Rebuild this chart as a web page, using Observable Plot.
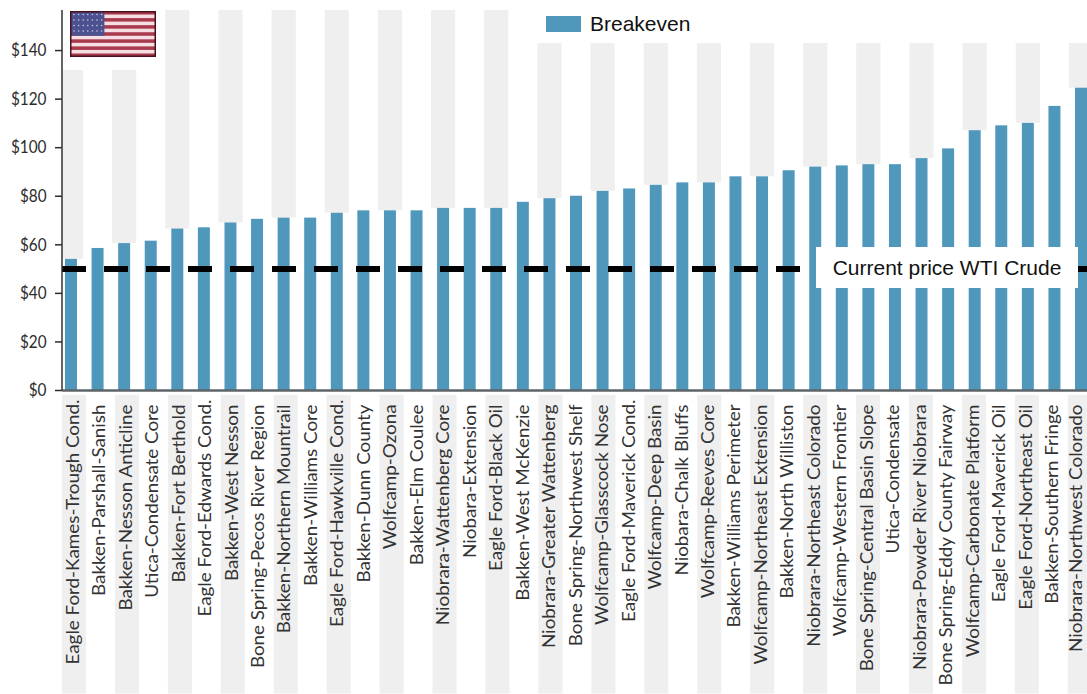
<!DOCTYPE html>
<html>
<head>
<meta charset="utf-8">
<script src="https://cdn.jsdelivr.net/npm/d3@7"></script>
<script src="https://cdn.jsdelivr.net/npm/@observablehq/plot@0.6"></script>
<style>
  html, body { margin: 0; padding: 0; background: #fff; overflow: hidden; }
  #wrap { position: relative; width: 1087px; height: 694px; overflow: hidden; }
  #wrap svg { display: block; }
  .box { position: absolute; background: #fff; }
  .sans { font-family: "Liberation Sans", Arial, sans-serif; color: #111; white-space: nowrap; }
</style>
</head>
<body>
<div id="wrap"></div>
<script>
// US shale plays ranked by breakeven oil price, in dollars per barrel
const plays = [
  "Eagle Ford-Kames-Trough Cond.", "Bakken-Parshall-Sanish", "Bakken-Nesson Anticline",
  "Utica-Condensate Core", "Bakken-Fort Berthold", "Eagle Ford-Edwards Cond.",
  "Bakken-West Nesson", "Bone Spring-Pecos River Region", "Bakken-Northern Mountrail",
  "Bakken-Williams Core", "Eagle Ford-Hawkville Cond.", "Bakken-Dunn County",
  "Wolfcamp-Ozona", "Bakken-Elm Coulee", "Niobrara-Wattenberg Core",
  "Niobara-Extension", "Eagle Ford-Black Oil", "Bakken-West McKenzie",
  "Niobrara-Greater Wattenberg", "Bone Spring-Northwest Shelf", "Wolfcamp-Glasscock Nose",
  "Eagle Ford-Maverick Cond.", "Wolfcamp-Deep Basin", "Niobara-Chalk Bluffs",
  "Wolfcamp-Reeves Core", "Bakken-Williams Perimeter", "Wolfcamp-Northeast Extension",
  "Bakken-North Williston", "Niobrara-Northeast Colorado", "Wolfcamp-Western Frontier",
  "Bone Spring-Central Basin Slope", "Utica-Condensate", "Niobrara-Powder River Niobrara",
  "Bone Spring-Eddy County Fairway", "Wolfcamp-Carbonate Platform", "Eagle Ford-Maverick Oil",
  "Eagle Ford-Northeast Oil", "Bakken-Southern Fringe", "Niobrara-Northwest Colorado"
];
const breakeven = [
  54, 58.5, 60.5, 61.5, 66.5, 67, 69, 70.5, 71, 71, 73, 74, 74,
  74, 75, 75, 75, 77.5, 79, 80, 82, 83, 84.5, 85.5, 85.5, 88,
  88, 90.5, 92, 92.5, 93, 93, 95.5, 99.5, 107, 109, 110, 117, 124.5
];
const yTicks = [0, 20, 40, 60, 80, 100, 120, 140];
const currentPrice = 50;
const yTop = 156.5;

const rows = plays.map((play, i) => ({play, value: breakeven[i], i}));
const banded = rows.filter(d => d.i % 2 === 0);

const chart = Plot.plot({
  width: 1087,
  height: 694,
  marginLeft: 62,
  marginRight: 0,
  marginTop: 10,
  marginBottom: 304,
  style: {background: "#fff", overflow: "visible"},
  x: {domain: plays, range: [57.7, 1094.3], padding: 0, round: false, label: null},
  y: {domain: [0, yTop], label: null},
  marks: [
    // Alternate bands: above each bar, and again behind its label
    Plot.barY(banded, {x: "play", y1: "value", y2: yTop, fill: "#efefef", insetLeft: 1.2, insetRight: 1.2, clip: "frame"}),
    Plot.barY(banded, {x: "play", y1: -2, y2: -125, fill: "#efefef", insetLeft: 1.2, insetRight: 1.2, className: "label-band"}),
    Plot.barY(rows, {x: "play", y: "value", fill: "#4f98bc", insetLeft: 7.3, insetRight: 7.3}),
    Plot.ruleY([0], {stroke: "#5d6468", strokeWidth: 2.5}),
    Plot.ruleY([currentPrice], {stroke: "#000", strokeWidth: 6, strokeDasharray: "24 18"}),
    Plot.axisY({
      ticks: yTicks, tickFormat: d => "$" + d, tickSize: 7, tickPadding: 9,
      fontSize: 18, stroke: "#2b2b2b", fill: "#2b2b2b",
      fontFamily: "Lato", label: null, strokeWidth: 1.5
    }),
    Plot.axisX({
      tickRotate: -90, tickSize: 0, tickPadding: 14, fontSize: 18,
      fill: "#333", fontFamily: "Lato", label: null
    })
  ]
});

const wrap = document.getElementById("wrap");
wrap.appendChild(chart);

// Tick labels are set in a narrower cut on the value axis and a wider one on the category axis
const fitLabels = (selector, ratio) => {
  chart.querySelectorAll(selector + " text").forEach(t => {
    t.setAttribute("textLength", (t.getComputedTextLength() * ratio).toFixed(1));
    t.setAttribute("lengthAdjust", "spacingAndGlyphs");
  });
};
fitLabels('g[aria-label="y-axis tick label"]', 0.85);
fitLabels('g[aria-label="x-axis tick label"]', 1.045);

// Abbreviated names sit a little further up their band
const categoryLabels = [...chart.querySelectorAll('g[aria-label="x-axis tick label"] text')];
categoryLabels.forEach(t => {
  if (t.textContent.endsWith("Cond.")) t.setAttribute("dx", 5);
});

// The final label is pulled in so its descenders stay on the page
const lastLabel = categoryLabels[categoryLabels.length - 1];
lastLabel.setAttribute("transform", `translate(-3,0) ${lastLabel.getAttribute("transform") || ""}`);

// The label strip runs on a slightly tighter pitch than the bars above it
const squeeze = 26.47 / 26.58;
const retune = (el, offset) => {
  const prior = el.getAttribute("transform") || "";
  el.setAttribute("transform", `translate(${offset},0) scale(${squeeze},1) ${prior}`);
};
chart.querySelectorAll("g.label-band").forEach(g => retune(g, 71 * (1 - squeeze) + 3));
chart.querySelectorAll('g[aria-label="x-axis tick label"]').forEach(g => retune(g, 71 * (1 - squeeze) + 1.5));

// The vertical axis line runs the full height of the frame
const yPx = chart.scale("y");
d3.select(chart).append("line")
  .attr("x1", 62).attr("x2", 62)
  .attr("y1", yPx.apply(yTop)).attr("y2", yPx.apply(0))
  .attr("stroke", "#333").attr("stroke-width", 1.5);

function box(css, html) {
  const el = document.createElement("div");
  el.className = "box";
  el.style.cssText = css;
  if (html) el.innerHTML = html;
  wrap.appendChild(el);
  return el;
}

// Legend, on a white strip across the top right
box("left:530px;top:0;width:557px;height:43px;");
box("left:546px;top:16px;width:35px;height:16px;background:#4f98bc;");
const legendText = box("left:590px;top:12px;font-size:21px;line-height:24px;background:none;", "Breakeven");
legendText.classList.add("sans");

// Label for the current price, centred on its line
const priceY = yPx.apply(currentPrice);
const priceLabel = box(`left:816px;top:${priceY - 22}px;width:262px;height:41px;line-height:41px;text-align:center;font-size:21px;`, "Current price WTI Crude");
priceLabel.classList.add("sans");

// Flag in the top left corner of the frame
box("left:63px;top:0;width:96px;height:70px;");
const flagW = 86, flagH = 46;
const flag = d3.select(wrap).append("svg")
  .attr("width", flagW).attr("height", flagH)
  .style("position", "absolute").style("left", "70px").style("top", "11px");
const stripeCount = 13;
d3.range(stripeCount).forEach(s => {
  flag.append("rect")
    .attr("x", 0).attr("width", flagW)
    .attr("y", s * flagH / stripeCount).attr("height", flagH / stripeCount + 0.5)
    .attr("fill", s % 2 ? "#f6dfe2" : "#a83a4e");
});
flag.append("rect").attr("width", flagW * 0.4).attr("height", flagH * 7 / 13).attr("fill", "#4c5190");
d3.range(4).forEach(r => d3.range(7).forEach(c => {
  flag.append("circle")
    .attr("cx", 4 + c * 4.6).attr("cy", 3.5 + r * 5.5).attr("r", 0.8).attr("fill", "#c9cbe6");
}));
flag.append("rect").attr("width", flagW).attr("height", flagH)
  .attr("fill", "none").attr("stroke", "#4a0f1c").attr("stroke-width", 3);
</script>
</body>
</html>
